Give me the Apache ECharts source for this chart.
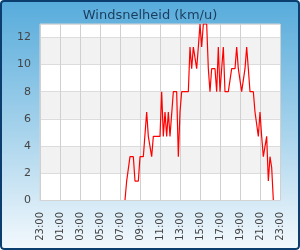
<!DOCTYPE html>
<html>
<head>
<meta charset="utf-8">
<script src="https://cdn.jsdelivr.net/npm/echarts@6/dist/echarts.min.js"></script>
<style>
  html, body { margin: 0; padding: 0; background: #fff; }
  #wrap {
    position: relative; width: 300px; height: 250px;
    background: linear-gradient(to bottom, #56abdb 0%, #a3d1eb 50%, #f4f9fd 100%);
    border-radius: 4px; overflow: hidden;
  }
  #main { position: absolute; left: 0; top: 0; width: 300px; height: 250px; }
  #frame {
    position: absolute; left: 0; top: 0; width: 300px; height: 250px;
    box-sizing: border-box; border: 2px solid #0b3d6e; border-radius: 4px;
    pointer-events: none;
  }
</style>
</head>
<body>
<div id="wrap">
  <div id="main"></div>
  <div id="frame"></div>
</div>
<script>
// meettijden (elke 10 minuten)
var times = [
  '07:30','07:40','07:50','08:00','08:10','08:20','08:30','08:40','08:50','09:00',
  '09:10','09:20','09:30','09:40','09:50','10:00','10:10','10:20','10:30','10:40',
  '10:50','11:00','11:10','11:20','11:30','11:40','11:50','12:00','12:10','12:20',
  '12:30','12:40','12:50','13:00','13:10','13:20','13:30','13:40','13:50','14:00',
  '14:10','14:20','14:30','14:40','14:50','15:00','15:10','15:20','15:30','15:40',
  '15:50','16:00','16:10','16:20','16:30','16:40','16:50','17:00','17:10','17:20',
  '17:30','17:40','17:50','18:00','18:10','18:20','18:30','18:40','18:50','19:00',
  '19:10','19:20','19:30','19:40','19:50','20:00','20:10','20:20','20:30','20:40',
  '20:50','21:00','21:10','21:20','21:30','21:40','21:50','22:00','22:10','22:20'
];
// windsnelheid km/u
var speeds = [
  0, 1.4, 1.4, 3.2, 3.2, 3.2, 1.4, 1.4, 1.4, 3.2,
  3.2, 3.2, 3.2, 6.5, 4.7, 4.7, 3.2, 4.7, 4.7, 4.7,
  4.7, 4.7, 8, 4.7, 6.5, 4.7, 6.5, 4.7, 4.7, 8,
  8, 8, 3.2, 6.5, 8, 8, 8, 8, 8, 11.3,
  9.7, 11.3, 11.3, 9.7, 11.3, 13, 11.3, 13, 13, 13,
  9.7, 8, 9.7, 9.7, 9.7, 8, 11.3, 8, 9.7, 11.3,
  8, 8, 8, 8, 9.7, 9.7, 9.7, 11.3, 9.7, 9.7,
  8, 8, 9.7, 11.3, 9.7, 8, 8, 8, 6.5, 6.5,
  4.7, 6.5, 4.7, 3.2, 3.2, 4.7, 1.4, 3.2, 2.4, 0
];
var startHour = 23;   // as begint om 23:00
var yTicks = [0, 2, 4, 6, 8, 10, 12];

// minuten sinds 23:00
function toMinutes (t) {
  var p = t.split(':');
  var m = parseInt(p[0], 10) * 60 + parseInt(p[1], 10) - startHour * 60;
  return (m + 1440) % 1440;
}

var seriesData = times.map(function (t, i) {
  return [toMinutes(t), speeds[i]];
});

var myChart = echarts.init(document.getElementById('main'));
var option = {
  animation: false,
  backgroundColor: 'transparent',
  title: {
    text: 'Windsnelheid (km/u)',
    left: 'center',
    top: 4,
    textStyle: {
      fontFamily: 'DejaVu Sans',
      fontSize: 13,
      fontWeight: 'normal',
      color: '#1b3c5e'
    }
  },
  grid: {
    left: 40,
    right: 20,
    top: 24,
    bottom: 50,
    show: true,
    backgroundColor: '#fff',
    borderColor: '#d4d4d4',
    borderWidth: 1
  },
  xAxis: {
    type: 'value',
    min: 0,
    max: 1440,
    interval: 120,
    axisLine: { lineStyle: { color: '#d4d4d4' } },
    axisTick: { show: false },
    splitLine: { lineStyle: { color: '#d0d0d0', width: 1 } },
    axisLabel: {
      rotate: 90,
      margin: 12,
      fontFamily: 'DejaVu Sans',
      fontSize: 10,
      color: '#444',
      formatter: function (v) {
        var h = (startHour + Math.round(v / 60)) % 24;
        return (h < 10 ? '0' : '') + h + ':00';
      }
    }
  },
  yAxis: {
    type: 'value',
    min: 0,
    max: 13,
    interval: 2,
    axisLine: { show: false },
    axisTick: { show: false },
    splitLine: { lineStyle: { color: '#dcdcdc', width: 1 } },
    splitArea: { show: true, areaStyle: { color: ['#ffffff', '#f2f2f2'] } },
    axisLabel: {
      margin: 9,
      fontFamily: 'DejaVu Sans',
      fontSize: 11,
      color: '#444',
      formatter: function (v) {
        return yTicks.indexOf(v) >= 0 ? String(v) : '';
      }
    }
  },
  series: [{
    type: 'line',
    data: seriesData,
    showSymbol: false,
    lineStyle: { color: '#ff0000', width: 1.2 },
    itemStyle: { color: '#ff0000' }
  }]
};
myChart.setOption(option);
</script>
</body>
</html>
